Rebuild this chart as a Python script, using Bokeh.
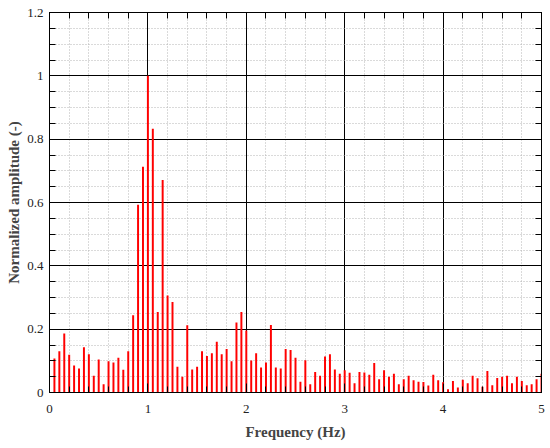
from bokeh.plotting import figure
from bokeh.models import (FixedTicker, LinearAxis, CustomJSTickFormatter, Range1d)
from bokeh.embed import file_html
from bokeh.resources import INLINE

# Frequencies (Hz), 0.05 Hz resolution
freq = [round(0.05 * k, 2) for k in range(1, 101)]
# Normalized amplitudes
amp = [
    0.107, 0.130, 0.186, 0.119, 0.085, 0.076, 0.143, 0.121, 0.053, 0.104,
    0.026, 0.099, 0.095, 0.110, 0.072, 0.130, 0.244, 0.593, 0.713, 1.000,
    0.833, 0.254, 0.671, 0.306, 0.286, 0.081, 0.050, 0.212, 0.073, 0.081,
    0.130, 0.115, 0.124, 0.160, 0.121, 0.137, 0.099, 0.221, 0.254, 0.196,
    0.101, 0.124, 0.079, 0.095, 0.213, 0.079, 0.076, 0.137, 0.134, 0.110,
    0.034, 0.102, 0.026, 0.065, 0.053, 0.114, 0.121, 0.073, 0.059, 0.070,
    0.062, 0.029, 0.065, 0.063, 0.056, 0.093, 0.042, 0.070, 0.050, 0.059,
    0.026, 0.042, 0.053, 0.039, 0.034, 0.033, 0.022, 0.056, 0.039, 0.032,
    0.010, 0.036, 0.016, 0.040, 0.029, 0.053, 0.045, 0.018, 0.068, 0.023,
    0.046, 0.050, 0.053, 0.029, 0.050, 0.036, 0.023, 0.026, 0.042, 0.059,
]
x_ticks = [0, 1, 2, 3, 4, 5]
x_minor = [0.2 * k for k in range(0, 26)]
y_ticks = [0, 0.2, 0.4, 0.6, 0.8, 1.0, 1.2]
y_minor = [0.05 * k for k in range(0, 25)]

FONT = "Liberation Serif"

p = figure(width=549, height=446, output_backend="svg", toolbar_location=None,
           x_range=Range1d(0, 5), y_range=Range1d(0, 1.2),
           min_border_left=49, min_border_top=12, min_border_right=8,
           min_border_bottom=54)

bottom = p.below[0]
left = p.left[0]

p.vbar(x=freq, top=amp, width=0.02, color="#ff0000", line_width=0)

xt = FixedTicker(ticks=x_ticks, minor_ticks=x_minor)
yt = FixedTicker(ticks=y_ticks, minor_ticks=y_minor)
fmt = CustomJSTickFormatter(code="return String(Math.round(tick*10)/10);")

bottom.ticker = xt
bottom.formatter = fmt
left.ticker = yt
left.formatter = fmt

top = LinearAxis(ticker=xt, major_label_text_alpha=0, major_label_text_font_size="1px",
                 major_label_standoff=0)
right = LinearAxis(ticker=yt, major_label_text_alpha=0, major_label_text_font_size="1px",
                   major_label_standoff=0)
p.add_layout(top, "above")
p.add_layout(right, "right")

for ax in [bottom, left, top, right]:
    ax.major_tick_in = 9
    ax.major_tick_out = 0
    ax.minor_tick_in = 6
    ax.minor_tick_out = 0
    ax.axis_line_color = "black"
    ax.major_tick_line_color = "black"
    ax.minor_tick_line_color = "black"
    ax.axis_line_width = 1

bottom.major_label_text_font = FONT
bottom.major_label_text_font_size = "13px"
bottom.major_label_text_color = "#222222"
bottom.major_label_standoff = 12
bottom.axis_label = "Frequency (Hz)"
bottom.axis_label_text_font = FONT
bottom.axis_label_text_font_style = "bold"
bottom.axis_label_text_font_size = "15px"
bottom.axis_label_standoff = 8

left.major_label_text_font = FONT
left.major_label_text_font_size = "13px"
left.major_label_text_color = "#222222"
left.major_label_standoff = 6
left.axis_label = "Normalized amplitude (-)"
left.axis_label_text_font = FONT
left.axis_label_text_font_style = "bold"
left.axis_label_text_font_size = "15px"
left.axis_label_standoff = 2

p.xgrid.ticker = xt
p.ygrid.ticker = yt
for g in [p.xgrid[0], p.ygrid[0]]:
    g.grid_line_color = "black"
    g.grid_line_width = 1
    g.grid_line_alpha = 1.0
    g.minor_grid_line_color = "#b5b5b5"
    g.minor_grid_line_dash = "1 2"
    g.minor_grid_line_width = 1
    g.level = "underlay"

p.outline_line_color = "black"
p.outline_line_width = 1
p.background_fill_color = "white"

open("out.html", "w").write(file_html(p, INLINE))
